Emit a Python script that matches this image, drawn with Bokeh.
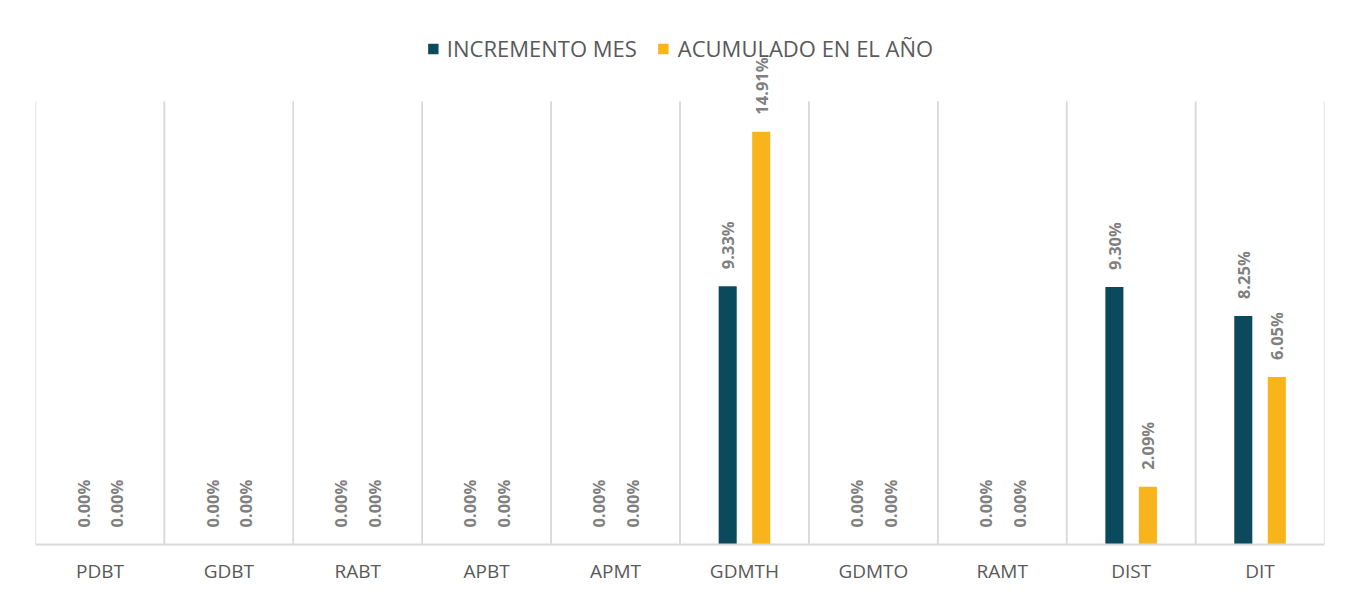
import math
from bokeh.plotting import figure
from bokeh.models import ColumnDataSource, FactorRange, Range1d, LabelSet, Legend, LegendItem
from bokeh.core.properties import value
from bokeh.transform import dodge
from bokeh.embed import file_html
from bokeh.resources import INLINE

categories = ["PDBT", "GDBT", "RABT", "APBT", "APMT", "GDMTH", "GDMTO", "RAMT", "DIST", "DIT"]
incremento_mes = [0.00, 0.00, 0.00, 0.00, 0.00, 9.33, 0.00, 0.00, 9.30, 8.25]
acumulado_anio = [0.00, 0.00, 0.00, 0.00, 0.00, 14.91, 0.00, 0.00, 2.09, 6.05]
series_names = ["INCREMENTO MES", "ACUMULADO EN EL AÑO"]

TEAL = "#0B4A5D"
GOLD = "#F9B41B"
GRID = "#D9D9D9"
FONT = "Open Sans"

W, H = 1352, 590
BL, BR, BT, BB = 35, 28, 0, 46
Y_TOP = 16.0
frame_h = H - BT - BB
top_px = 101  # pixel row (in frame) where Y_TOP sits
y_end = Y_TOP * frame_h / (frame_h - top_px)

src = ColumnDataSource(dict(
    cats=categories,
    inc=incremento_mes,
    acu=acumulado_anio,
    inc_lbl=["%.2f%%" % v for v in incremento_mes],
    acu_lbl=["%.2f%%" % v for v in acumulado_anio],
))

p = figure(x_range=FactorRange(*categories, range_padding=0),
           y_range=Range1d(0, y_end),
           width=W, height=H, output_backend="svg", toolbar_location=None,
           y_axis_location=None, min_border_left=BL, min_border_right=BR,
           min_border_top=BT, min_border_bottom=BB)
p.outline_line_color = None
p.xgrid.visible = False
p.ygrid.visible = False

# category separator lines
for off in (-0.5, 0.5):
    p.segment(x0=dodge("cats", off, range=p.x_range), y0=0,
              x1=dodge("cats", off, range=p.x_range), y1=Y_TOP,
              source=src, line_color=GRID, line_width=1.5)

r1 = p.vbar(x=dodge("cats", -0.13, range=p.x_range), top="inc", width=0.14,
            source=src, fill_color=TEAL, line_color=None)
r2 = p.vbar(x=dodge("cats", 0.13, range=p.x_range), top="acu", width=0.14,
            source=src, fill_color=GOLD, line_color=None)

for off, col, lbl in ((-0.13, "inc", "inc_lbl"), (0.13, "acu", "acu_lbl")):
    ls = LabelSet(x=dodge("cats", off, range=p.x_range), y=col, text=lbl, source=src,
                  angle=math.pi / 2, text_align="left", text_baseline="middle",
                  y_offset=17, text_font=value(FONT), text_font_style="bold",
                  text_font_size="16.5px", text_color="#808080")
    p.add_layout(ls)

ax = p.xaxis[0]
ax.axis_line_color = GRID
ax.axis_line_width = 2
ax.major_tick_line_color = None
ax.minor_tick_line_color = None
ax.major_tick_out = 0
ax.major_tick_in = 0
ax.minor_tick_out = 0
ax.minor_tick_in = 0
ax.major_label_text_font = FONT
ax.major_label_text_font_size = "19px"
ax.major_label_text_color = "#595959"
ax.major_label_standoff = 13

legend = Legend(items=[LegendItem(label=series_names[0], renderers=[r1]),
                       LegendItem(label=series_names[1], renderers=[r2])],
                location="top_center", orientation="horizontal",
                glyph_width=13, glyph_height=13, label_standoff=8, spacing=20,
                padding=0, margin=33, border_line_color=None,
                background_fill_alpha=0, label_text_font=FONT,
                label_text_font_size="22px", label_text_color="#595959")
p.add_layout(legend)

open("out.html", "w").write(file_html(p, INLINE))
